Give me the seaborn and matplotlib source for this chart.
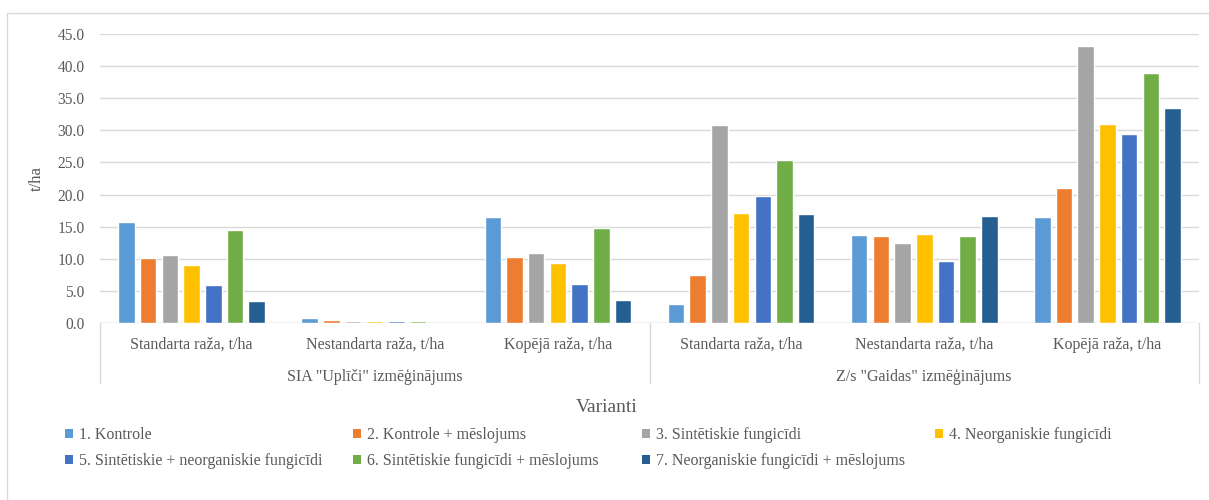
import matplotlib
matplotlib.use("Agg")
import matplotlib.pyplot as plt
import matplotlib.transforms as mtransforms
from matplotlib.patches import Patch, Rectangle
import pandas as pd
import seaborn as sns

# Yield categories and trial sites
categories = ["Standarta raža, t/ha", "Nestandarta raža, t/ha", "Kopējā raža, t/ha"]
sites = ['SIA "Uplīči" izmēģinājums', 'Z/s "Gaidas" izmēģinājums']

variants = [
    "1. Kontrole",
    "2. Kontrole + mēslojums",
    "3. Sintētiskie fungicīdi",
    "4. Neorganiskie fungicīdi",
    "5. Sintētiskie + neorganiskie fungicīdi",
    "6. Sintētiskie fungicīdi + mēslojums",
    "7. Neorganiskie fungicīdi + mēslojums",
]

# Yields (t/ha) per variant; order: Uplīči std, non-std, total, Gaidas std, non-std, total
v1 = [15.8, 0.8, 16.5, 2.9, 13.7, 16.5]
v2 = [10.1, 0.5, 10.3, 7.4, 13.6, 21.0]
v3 = [10.6, 0.3, 10.9, 30.8, 12.4, 43.2]
v4 = [9.0, 0.3, 9.3, 17.1, 13.8, 31.0]
v5 = [5.9, 0.3, 6.1, 19.7, 9.6, 29.4]
v6 = [14.5, 0.3, 14.8, 25.4, 13.6, 39.0]
v7 = [3.4, 0.0, 3.6, 16.9, 16.6, 33.4]

colors = ["#5B9BD5", "#ED7D31", "#A5A5A5", "#FFC000", "#4472C4", "#70AD47", "#255E91"]

keys = [f"{s}|{c}" for s in sites for c in categories]
rows = []
for name, vals in zip(variants, [v1, v2, v3, v4, v5, v6, v7]):
    for k, v in zip(keys, vals):
        rows.append({"key": k, "variant": name, "value": v})
df = pd.DataFrame(rows)

sns.set_style("white")
plt.rcParams["font.family"] = ["Liberation Serif", "DejaVu Serif"]
text_color = "#595959"
grid_color = "#D9D9D9"
fs = 11.5

fig = plt.figure(figsize=(12.09, 5.0), dpi=100)
ax = fig.add_axes([100 / 1209, 177 / 500, 1099 / 1209, 289 / 500])

sns.barplot(data=df, x="key", y="value", hue="variant", order=keys,
            hue_order=variants, palette=colors, saturation=1,
            width=0.83, gap=0.24, ax=ax, legend=False, errorbar=None)

ax.set_ylim(0, 45)
ax.set_xlim(-0.5, 5.5)
ax.set_yticks([i * 5 for i in range(10)])
ax.set_yticklabels([f"{i * 5:.1f}" for i in range(10)])
ax.set_xticks(range(6))
ax.set_xticklabels(categories * 2)
ax.tick_params(axis="y", length=0, pad=11, labelsize=11.2, labelcolor=text_color)
ax.tick_params(axis="x", length=0, pad=10, labelsize=fs, labelcolor=text_color)
ax.set_xlabel("")
ax.set_ylabel("t/ha", fontsize=12, color=text_color, labelpad=9)

for s in ax.spines.values():
    s.set_visible(False)
ax.yaxis.grid(True, color=grid_color, linewidth=1.0)
ax.set_axisbelow(True)
ax.axhline(0, color=grid_color, linewidth=1.0, zorder=0.5)

# Site group separators and labels below the category axis
trans = mtransforms.blended_transform_factory(ax.transData, ax.transAxes)
for xb in [-0.5, 2.5, 5.5]:
    ax.plot([xb, xb], [0, -0.208], transform=trans, color=grid_color,
            linewidth=1.0, clip_on=False)
for i, site in enumerate(sites):
    ax.text(1 + 3 * i, -0.186, site, transform=trans, ha="center", va="center",
            fontsize=fs, color=text_color)

fig.text(607 / 1209, (500 - 407) / 500, "Varianti", ha="center", va="center",
         fontsize=14, color=text_color)

# Legend laid out in four equally spaced columns
handles = [Patch(facecolor=c, edgecolor="none") for c in colors]
col_x = [65, 353, 642, 935]
for j, x in enumerate(col_x):
    idx = [j, j + 4] if j + 4 < len(variants) else [j]
    fig.legend([handles[i] for i in idx], [variants[i] for i in idx],
               loc="upper left", bbox_to_anchor=(x / 1209, (500 - 427) / 500),
               frameon=False, fontsize=fs, labelcolor=text_color,
               handlelength=0.5, handleheight=0.5, handletextpad=0.35,
               labelspacing=0.62, borderaxespad=0, borderpad=0)

# Chart frame
fig.patches.append(Rectangle((7 / 1209, -0.1), 1.2, (500 - 13) / 500 + 0.1,
                             transform=fig.transFigure, fill=False,
                             edgecolor=grid_color, linewidth=1.0))

fig.savefig("out.png", dpi=100)
